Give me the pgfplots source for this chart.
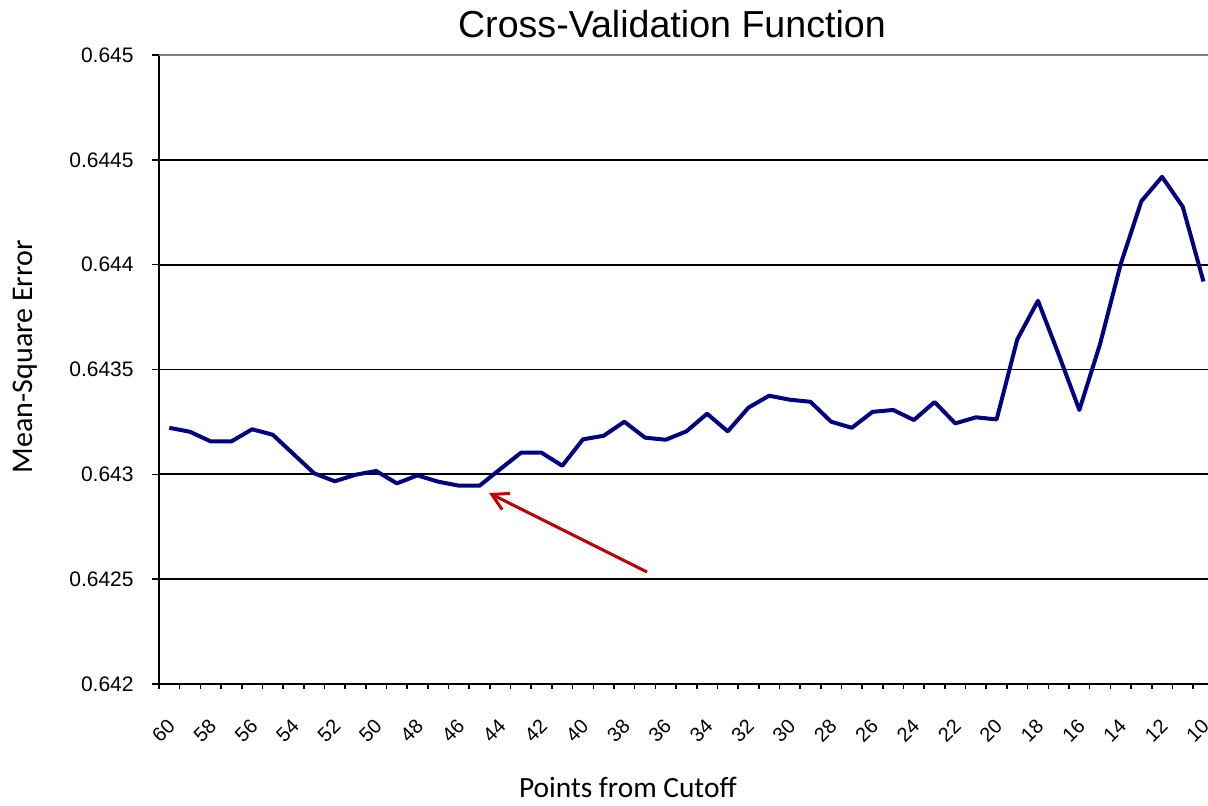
\documentclass[border=0pt]{standalone}
\usepackage{pgfplots}
\pgfplotsset{compat=1.18}
\usepackage{fontspec}
\setmainfont{Liberation Sans}
\newfontfamily\calibri{Carlito}
\usetikzlibrary{arrows.meta}
\definecolor{navyline}{RGB}{0,0,128}
\definecolor{arrowred}{RGB}{192,0,0}
\pgfplotstableread{
x y
60 0.643222
59 0.643203
58 0.643157
57 0.643157
56 0.643215
55 0.643189
54 0.643097
53 0.643005
52 0.642967
51 0.642998
50 0.643016
49 0.642957
48 0.642995
47 0.642965
46 0.642946
45 0.642946
44 0.643025
43 0.643103
42 0.643103
41 0.643041
40 0.643167
39 0.643184
38 0.643251
37 0.643175
36 0.643165
35 0.643205
34 0.643289
33 0.643205
32 0.643318
31 0.643375
30 0.643356
29 0.643346
28 0.643251
27 0.643222
26 0.643298
25 0.643307
24 0.643259
23 0.643345
22 0.643243
21 0.643272
20 0.643262
19 0.643644
18 0.643828
17 0.643572
16 0.643307
15 0.643621
14 0.644003
13 0.644303
12 0.644419
11 0.644276
10 0.643920
}\cvdata
\begin{document}
\begin{tikzpicture}
\useasboundingbox (-79.5pt,-60.5pt) rectangle (524.5pt,342pt);
\begin{axis}[
  scale only axis,
  width=524.5pt, height=314.5pt,
  x dir=reverse,
  xmin=9.78, xmax=60.5,
  ymin=0.642, ymax=0.645,
  axis lines=left,
  axis line style={-, black, line width=1pt},
  xtick={10,12,...,60},
  xticklabels={10,12,14,16,18,20,22,24,26,28,30,32,34,36,38,40,42,44,46,48,50,52,54,56,58,60},
  minor xtick={10.5,11.5,...,60.5},
  major x tick style={draw=none},
  ytick={0.642,0.6425,0.643,0.6435,0.644,0.6445},
  yticklabels={0.642,0.6425,0.643,0.6435,0.644,0.6445},
  extra y ticks={0.645},
  extra y tick labels={0.645},
  extra y tick style={grid style={gray, line width=1pt}},
  ymajorgrids,
  grid style={black, line width=0.9pt},
  tick align=outside,
  major tick length=3.5pt,
  minor tick length=2.3pt,
  tick style={black, line width=0.8pt},
  /pgf/number format/assume math mode=true,
  yticklabel style={font=\fontsize{10.5pt}{12pt}\selectfont, inner sep=0pt, anchor=east, xshift=-9pt},
  xticklabel style={font=\fontsize{10pt}{12pt}\selectfont, inner sep=0pt, xshift=-1.5pt, yshift=-13pt, rotate=45, anchor=north east},
  title={Cross-Validation Function},
  title style={font=\fontsize{18.8pt}{22pt}\selectfont, at={(axis description cs:0.489,1.0286)}, anchor=base, inner sep=0pt, yshift=-6pt},
  xlabel={Points from Cutoff},
  xlabel style={font=\calibri\fontsize{14.7pt}{17pt}\selectfont, at={(axis description cs:0.447,-0.1812)}, anchor=base, inner sep=0pt},
  ylabel={Mean-Square Error},
  ylabel style={font=\calibri\fontsize{15pt}{17pt}\selectfont, at={(axis description cs:-0.1201,0.5204)}, anchor=base, inner sep=0pt},
  clip=false,
]
\addplot[navyline, line width=2pt, line join=round, no markers] table[x=x,y=y] {\cvdata};
\draw[arrowred, line width=1.5pt, -{Straight Barb[length=8pt,width=9pt]}] (axis cs:36.9,0.642534) -- (axis cs:44.54,0.642911);
\end{axis}
\end{tikzpicture}
\end{document}
